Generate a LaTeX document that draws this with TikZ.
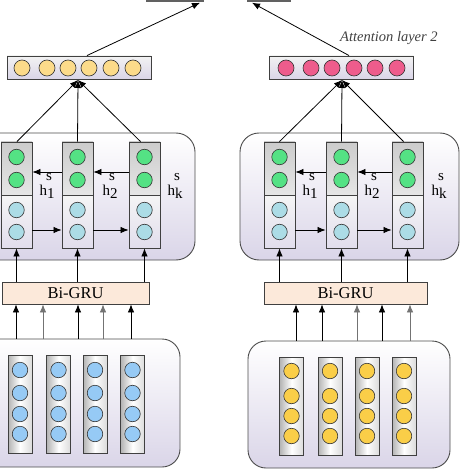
\documentclass[tikz,border=0pt]{standalone}
\usepackage{fontspec}
\setmainfont{Liberation Serif}
\usetikzlibrary{arrows.meta}
\definecolor{lav}{RGB}{218,213,232}
\definecolor{yel}{RGB}{252,219,138}
\definecolor{pnk}{RGB}{238,92,140}
\definecolor{grn}{RGB}{84,226,132}
\definecolor{lblu}{RGB}{172,220,230}
\definecolor{blu}{RGB}{150,202,245}
\definecolor{gld}{RGB}{250,206,72}
\definecolor{pch}{RGB}{252,233,218}
\tikzset{
  panel/.style={draw=black!70, line width=0.9pt, rounded corners=19pt, top color=white, bottom color=lav},
  colbox/.style={draw=black!75, line width=0.9pt, inner sep=0pt, left color=black!30, right color=black!14, middle color=white},
  topcol/.style={draw=black!75, line width=0.9pt, inner sep=0pt, top color=black!20, bottom color=black!10, minimum width=31pt, minimum height=53pt},
  botcol/.style={draw=black!75, line width=0.9pt, inner sep=0pt, top color=black!4, bottom color=lav!80, minimum width=31pt, minimum height=53pt},
  bar/.style={draw=black!75, line width=0.9pt, inner sep=0pt, top color=black!5, bottom color=lav, minimum width=144pt, minimum height=23pt},
  grubox/.style={draw=black!75, line width=0.8pt, fill=pch, minimum height=22pt, inner sep=0pt, font=\fontsize{16.5}{18}\selectfont},
  circ/.style={circle, draw=black!80, line width=0.6pt, minimum size=15.5pt, inner sep=0pt},
  topbox/.style={draw=none, fill=black!62, minimum height=14pt, inner sep=0pt},
  arr/.style={line width=0.8pt, -{Latex[length=8pt,width=6.5pt]}},
  farr/.style={line width=0.8pt, draw=black!55, -{Latex[length=8pt,width=6.5pt]}},
  lab/.style={inner sep=0pt, font=\fontsize{15}{16}\selectfont},
}
\begin{document}
\begin{tikzpicture}[x=1pt,y=-1pt]
\useasboundingbox (0,0) rectangle (461,470);
\clip (0,0) rectangle (461,470);

% top boxes (mostly out of frame)
\node[topbox, minimum width=58pt] (T1) at (174.5,-4.5) {};
\node[topbox, minimum width=44pt] (T2) at (268.5,-4.5) {};

% attention label
\node[inner sep=0pt, anchor=base west, text=black!75, font=\fontsize{14.5}{15}\selectfont\itshape] (att) at (340,42) {Attention layer 2};

% top bars
\node[bar] (B1) at (79,67.5) {};
\node[bar] (B2) at (341.5,67.5) {};
\foreach \x [count=\i] in {22,47,68,89,111,133}
  \node[circ, fill=yel, minimum size=16pt] (y\i) at (\x,68) {};
\foreach \x [count=\i] in {286,311,332,354,375,397}
  \node[circ, fill=pnk, minimum size=16pt] (p\i) at (\x,68) {};

\draw[arr] ([xshift=8pt]B1.north) -- ([xshift=25.5pt]T1.south);
\draw[arr] ([xshift=7.5pt]B2.north) -- ([xshift=-16.5pt]T2.south);

% upper panels
\node[panel, minimum width=215pt, minimum height=127pt, inner sep=0pt] (U1) at (87.5,196.5) {};
\node[panel, minimum width=219pt, minimum height=127pt, inner sep=0pt] (U2) at (349.5,196.5) {};

% GRU columns
\foreach \x [count=\i] in {16.5,77.5,144.5} {
  \node[topcol] (Lt\i) at (\x,168.5) {};
  \node[botcol] (Lb\i) at (\x,221.5) {};
  \node[circ, fill=grn] at (\x,157) {};
  \node[circ, fill=grn] at (\x,180) {};
  \node[circ, fill=lblu] at (\x,210) {};
  \node[circ, fill=lblu] at (\x,232) {};
}
\foreach \x [count=\i] in {279.5,341.5,407.5} {
  \node[topcol] (Rt\i) at (\x,168.5) {};
  \node[botcol] (Rb\i) at (\x,221.5) {};
  \node[circ, fill=grn] at (\x,157) {};
  \node[circ, fill=grn] at (\x,180) {};
  \node[circ, fill=lblu] at (\x,210) {};
  \node[circ, fill=lblu] at (\x,232) {};
}

% recurrent arrows
\foreach \a/\b in {2/1,3/2} {
  \draw[arr] ([yshift=-3.5pt]Lt\a.west) -- ([yshift=-3.5pt]Lt\b.east);
  \draw[arr] ([yshift=-3.5pt]Rt\a.west) -- ([yshift=-3.5pt]Rt\b.east);
}
\foreach \a/\b in {1/2,2/3} {
  \draw[arr] ([yshift=-8.5pt]Lb\a.east) -- ([yshift=-8.5pt]Lb\b.west);
  \draw[arr] ([yshift=-8.5pt]Rb\a.east) -- ([yshift=-8.5pt]Rb\b.west);
}

% hidden-state labels
\foreach \x/\s [count=\i] in {47/1,110/2,175/k,310/1,372/2,439/k} {
  \node[lab] (s\i) at (\x+2,177) {s};
  \node[lab] (h\i) at (\x,192) {h\raisebox{-3.5pt}{\s}};
}

% columns to top bars
\coordinate (cL) at (78,80);
\coordinate (cR) at (342,80);
\draw[arr] ([xshift=0.5pt]Lt1.north) -- (cL);
\draw[arr] (Lt2.north) -- (cL);
\draw[arr] ([xshift=-4pt]Lt3.north) -- (cL);
\draw[arr] (Rt1.north) -- (cR);
\draw[arr] (Rt2.north) -- (cR);
\draw[arr] ([xshift=-4pt]Rt3.north) -- (cR);

% Bi-GRU boxes
\node[grubox, minimum width=147pt] (G1) at (75.5,293) {Bi-GRU};
\node[grubox, minimum width=163pt] (G2) at (345.5,293) {Bi-GRU};

\foreach \i in {1,2,3} {
  \draw[arr] (Lb\i.south |- G1.north) -- (Lb\i.south);
  \draw[arr] (Rb\i.south |- G2.north) -- (Rb\i.south);
}

% lower panels
\node[panel, rounded corners=18pt, minimum width=200pt, minimum height=128pt, inner sep=0pt] (P1) at (80,403) {};
\node[panel, rounded corners=18pt, minimum width=202pt, minimum height=127pt, inner sep=0pt] (P2) at (349,404.5) {};

% arrows from lower panels into Bi-GRU
\foreach \x/\st [count=\i] in {16/arr,43/farr,78/arr,103/farr,131/arr} {
  \coordinate (la\i) at (\x,339);
  \draw[\st] (la\i) -- (la\i |- G1.south);
}
\foreach \x/\st [count=\i] in {296/arr,322/arr,357/farr,382/arr,410/farr} {
  \coordinate (ra\i) at (\x,341);
  \draw[\st] (ra\i) -- (ra\i |- G2.south);
}

% embedding columns
\foreach \x [count=\i] in {20,58.5,95,132.5} {
  \node[colbox, minimum width=24pt, minimum height=98pt] (E\i) at (\x,404) {};
  \foreach \y in {370,393,414,434}
    \node[circ, fill=blu] at (\x,\y) {};
}
\foreach \x [count=\i] in {291.5,330,367,404} {
  \node[colbox, minimum width=24pt, minimum height=98pt] (F\i) at (\x,406) {};
  \foreach \y in {371,396,416,436}
    \node[circ, fill=gld] at (\x,\y) {};
}
\end{tikzpicture}
\end{document}
